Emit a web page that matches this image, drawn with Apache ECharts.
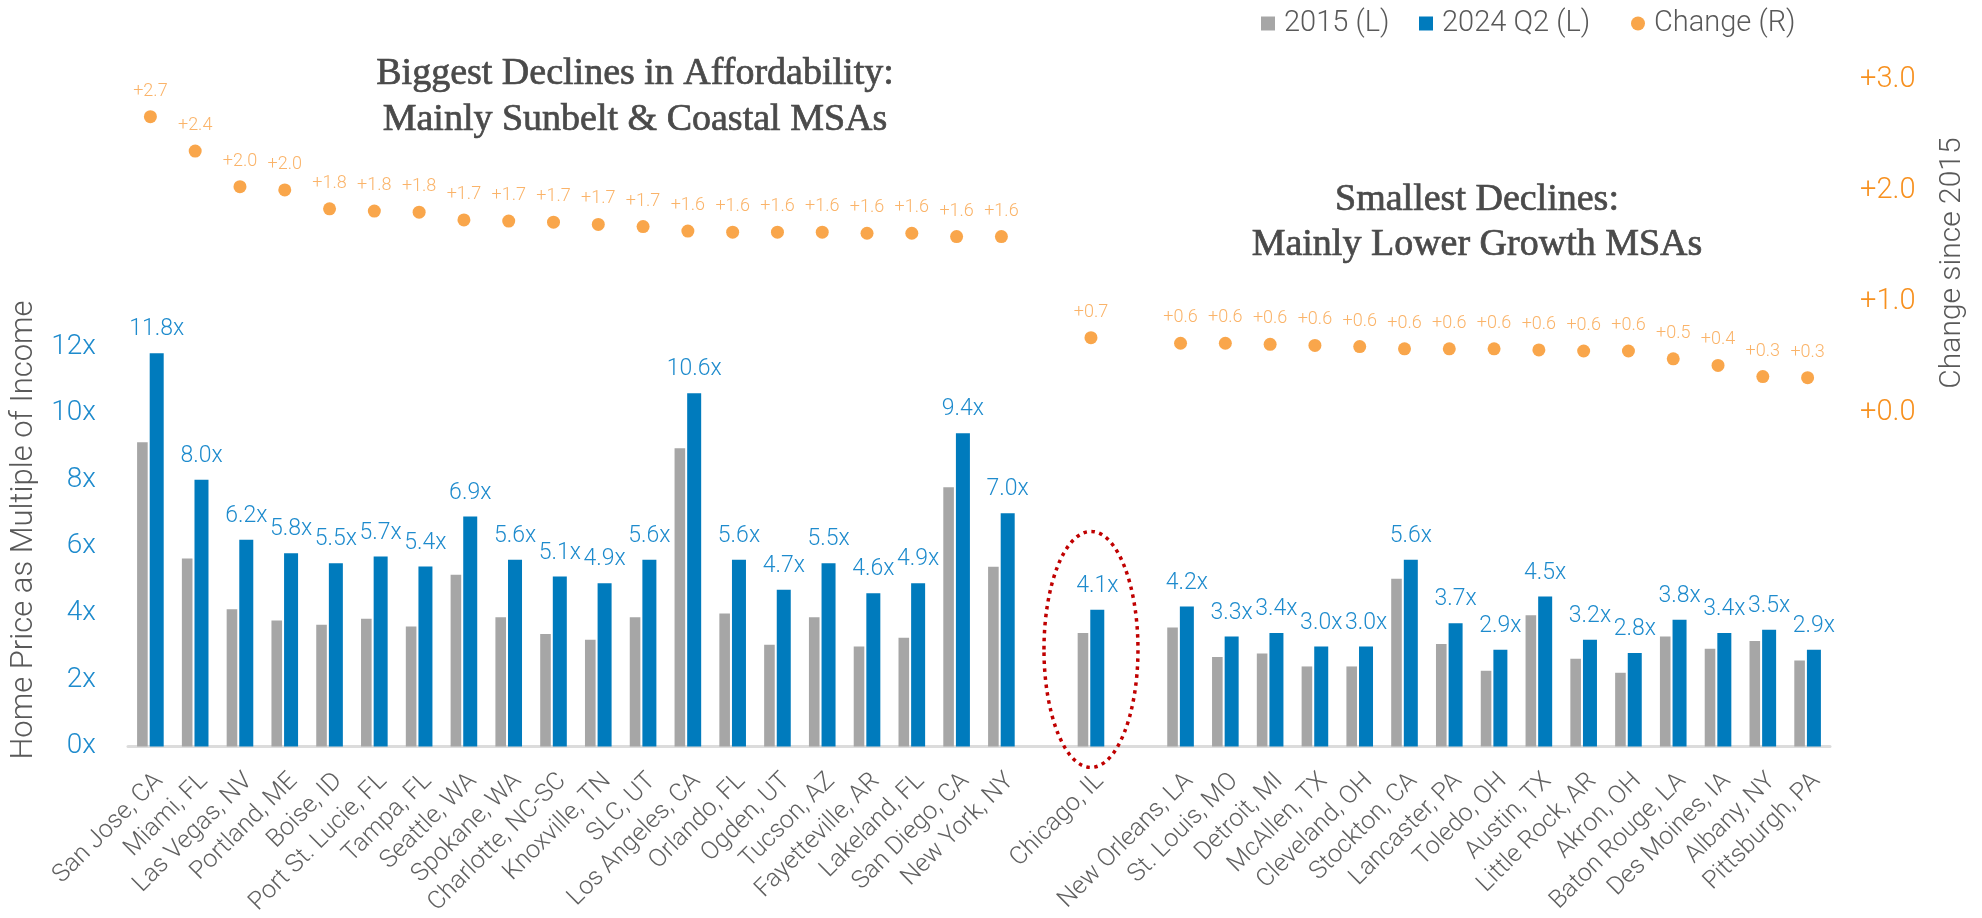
<!DOCTYPE html>
<html>
<head>
<meta charset="utf-8">
<script src="https://cdn.jsdelivr.net/npm/echarts@6/dist/echarts.min.js"></script>
<style>
  html, body { margin: 0; padding: 0; background: #ffffff; }
  #chart { width: 1982px; height: 918px; }
</style>
</head>
<body>
<div id="chart"></div>
<script>
// Metro areas, ordered by change in the price-to-income multiple; blanks separate the groups
const categories = [
  'San Jose, CA', 'Miami, FL', 'Las Vegas, NV', 'Portland, ME', 'Boise, ID',
  'Port St. Lucie, FL', 'Tampa, FL', 'Seattle, WA', 'Spokane, WA', 'Charlotte, NC-SC',
  'Knoxville, TN', 'SLC, UT', 'Los Angeles, CA', 'Orlando, FL', 'Ogden, UT',
  'Tucson, AZ', 'Fayetteville, AR', 'Lakeland, FL', 'San Diego, CA', 'New York, NY',
  '',
  'Chicago, IL',
  '',
  'New Orleans, LA', 'St. Louis, MO', 'Detroit, MI', 'McAllen, TX', 'Cleveland, OH',
  'Stockton, CA', 'Lancaster, PA', 'Toledo, OH', 'Austin, TX', 'Little Rock, AR',
  'Akron, OH', 'Baton Rouge, LA', 'Des Moines, IA', 'Albany, NY', 'Pittsburgh, PA'
];

// Home price as a multiple of income, 2015
const ratio2015 = [
  9.13, 5.64, 4.12, 3.78, 3.65, 3.83, 3.60, 5.15, 3.88, 3.37,
  3.20, 3.88, 8.95, 3.99, 3.05, 3.88, 3.00, 3.26, 7.78, 5.39,
  null,
  3.40,
  null,
  3.57, 2.68, 2.79, 2.40, 2.40, 5.03, 3.07, 2.27, 3.94, 2.63,
  2.21, 3.30, 2.93, 3.16, 2.58
];

// Home price as a multiple of income, 2024 Q2
const ratio2024 = [
  11.8, 8.0, 6.2, 5.8, 5.5, 5.7, 5.4, 6.9, 5.6, 5.1,
  4.9, 5.6, 10.6, 5.6, 4.7, 5.5, 4.6, 4.9, 9.4, 7.0,
  null,
  4.1,
  null,
  4.2, 3.3, 3.4, 3.0, 3.0, 5.6, 3.7, 2.9, 4.5, 3.2,
  2.8, 3.8, 3.4, 3.5, 2.9
];

// Change in the multiple since 2015 (right axis)
const changeSince2015 = [
  2.67, 2.36, 2.04, 2.01, 1.84, 1.82, 1.81, 1.74, 1.73, 1.72,
  1.70, 1.68, 1.64, 1.63, 1.63, 1.63, 1.62, 1.62, 1.59, 1.59,
  null,
  0.68,
  null,
  0.63, 0.63, 0.62, 0.61, 0.60, 0.58, 0.58, 0.58, 0.57, 0.56,
  0.56, 0.49, 0.43, 0.33, 0.32
];

const seriesNames = ['2015 (L)', '2024 Q2 (L)', 'Change (R)'];
const groupTitles = [
  ['Biggest Declines in Affordability:', 'Mainly Sunbelt & Coastal MSAs'],
  ['Smallest Declines:', 'Mainly Lower Growth MSAs']
];
const leftAxisName = 'Home Price as Multiple of Income';
const rightAxisName = 'Change since 2015';
const highlighted = 'Chicago, IL';

const SANS = 'Roboto, "Noto Sans", sans-serif';
const SERIF = '"Liberation Serif", "DejaVu Serif", serif';
const GRAY_TEXT = '#595959';
const TITLE_TEXT = '#4A4A4A';
const BLUE = '#007BBD';
const BLUE_TEXT = '#1E8BCD';
const ORANGE = '#F7901E';
const ORANGE_TEXT = '#F9A043';

const chart = echarts.init(document.getElementById('chart'), null, { renderer: 'canvas' });

// One legend block per entry so each sits at its own spot along the top edge
const legendLefts = [1256, 1414, 1626];
const legendIcons = ['rect', 'rect', 'circle'];
const legends = seriesNames.map((name, i) => ({
  left: legendLefts[i],
  top: 4,
  itemWidth: 14,
  itemHeight: 14,
  textStyle: {
    fontSize: 29, color: GRAY_TEXT, fontFamily: SANS, fontWeight: 300,
    padding: [0, 0, 0, 4]
  },
  data: [{ name: name, icon: legendIcons[i] }]
}));

const option = {
  animation: false,
  backgroundColor: '#ffffff',
  textStyle: { fontFamily: SANS },
  grid: { left: 128, right: 152, top: 80, bottom: 168, containLabel: false },
  legend: legends,
  xAxis: {
    type: 'category',
    data: categories,
    axisLine: { lineStyle: { color: '#DCDCDC', width: 3 } },
    axisTick: { show: false },
    axisLabel: {
      interval: 0,
      rotate: 45,
      margin: 22,
      verticalAlign: 'top',
      fontSize: 25,
      fontWeight: 300,
      color: '#606060',
      fontFamily: SANS
    },
    splitLine: { show: false }
  },
  yAxis: [
    {
      type: 'value',
      position: 'left',
      min: 0,
      max: 20,
      interval: 2,
      axisLine: { show: false },
      axisTick: { show: false },
      splitLine: { show: false },
      axisLabel: {
        margin: 32,
        fontSize: 28,
        fontWeight: 300,
        color: BLUE_TEXT,
        fontFamily: SANS,
        formatter: v => (v <= 12 ? v + 'x' : '')
      }
    },
    {
      type: 'value',
      position: 'right',
      min: -3,
      max: 3,
      interval: 1,
      axisLine: { show: false },
      axisTick: { show: false },
      splitLine: { show: false },
      axisLabel: {
        margin: 30,
        fontSize: 29,
        fontWeight: 300,
        color: ORANGE,
        fontFamily: SANS,
        formatter: v => (v >= 0 ? '+' + v.toFixed(1) : '')
      }
    }
  ],
  series: [
    {
      name: seriesNames[0],
      type: 'bar',
      yAxisIndex: 0,
      data: ratio2015,
      barWidth: 10.6,
      barGap: '19%',
      itemStyle: { color: '#A6A6A6' }
    },
    {
      name: seriesNames[1],
      type: 'bar',
      yAxisIndex: 0,
      data: ratio2024,
      barWidth: 14,
      barGap: '19%',
      itemStyle: { color: BLUE },
      label: {
        show: true,
        position: 'top',
        distance: 12,
        fontSize: 23,
        fontWeight: 300,
        color: BLUE_TEXT,
        fontFamily: SANS,
        formatter: p => (p.value == null ? '' : p.value.toFixed(1) + 'x')
      }
    },
    {
      name: seriesNames[2],
      type: 'scatter',
      yAxisIndex: 1,
      data: changeSince2015,
      symbol: 'circle',
      symbolSize: 13,
      itemStyle: { color: ORANGE },
      label: {
        show: true,
        position: 'top',
        distance: 10,
        fontSize: 18,
        fontWeight: 300,
        color: ORANGE_TEXT,
        fontFamily: SANS,
        formatter: p => (p.value == null ? '' : '+' + p.value.toFixed(1))
      }
    }
  ]
};

chart.setOption(option);

// Group headings, axis names and the dotted ring around the highlighted metro
const titleFont = '38px ' + SERIF;
const hiIndex = categories.indexOf(highlighted);
const hiX = chart.convertToPixel({ xAxisIndex: 0 }, hiIndex);
const baseY = chart.convertToPixel({ yAxisIndex: 0 }, 0);

function heading(text, x, y) {
  return {
    type: 'text', x: x, y: y, z: 10,
    style: {
      text: text, font: titleFont, fill: TITLE_TEXT,
      stroke: TITLE_TEXT, lineWidth: 0.7,
      align: 'center', verticalAlign: 'middle'
    }
  };
}

function axisName(text, x, y, size) {
  return {
    type: 'text', x: x, y: y, rotation: Math.PI / 2, z: 10,
    style: {
      text: text, font: '300 ' + size + 'px ' + SANS, fill: GRAY_TEXT,
      align: 'center', verticalAlign: 'middle'
    }
  };
}

chart.setOption({
  graphic: [
    heading(groupTitles[0][0], 635, 74),
    heading(groupTitles[0][1], 635, 120),
    heading(groupTitles[1][0], 1477, 200),
    heading(groupTitles[1][1], 1477, 245),
    axisName(leftAxisName, 24, 530, 31),
    axisName(rightAxisName, 1952, 263, 30),
    { type: 'ellipse', z: 20,
      shape: { cx: hiX, cy: baseY - 97, rx: 47, ry: 118 },
      style: { fill: null, stroke: '#C00000', lineWidth: 3.5, lineDash: [3.5, 4.5] } }
  ]
});
</script>
</body>
</html>
